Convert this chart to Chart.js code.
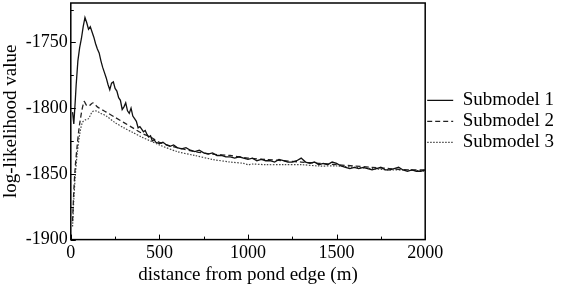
<!DOCTYPE html>
<html>
<head>
<meta charset="utf-8">
<script src="https://cdn.jsdelivr.net/npm/chart.js@4"></script>
<style>
  html, body { margin: 0; padding: 0; background: #fff; }
  #wrap { width: 561px; height: 286px; }
</style>
</head>
<body>
<div id="wrap"><canvas id="myChart" width="561" height="286"></canvas></div>
<script>
const seriesNames = ["Submodel 1", "Submodel 2", "Submodel 3"];

// Submodel 1 (solid, noisy)
const dist1 = [
  10, 17, 25, 30, 40, 50, 60, 70, 80, 90, 100, 110, 120, 130, 140, 150, 160, 170, 180, 190,
  200, 210, 220, 230, 240, 250, 260, 270, 280, 290, 300, 310, 320, 330, 340, 350, 360, 370, 380, 390,
  400, 410, 420, 430, 440, 450, 460, 470, 480, 500, 520, 540, 560, 580, 600,
  625, 650, 675, 700, 725, 750, 775, 800, 825, 850, 875, 900, 925, 950, 975,
  1000, 1025, 1050, 1075, 1100, 1125, 1150, 1175, 1200, 1225, 1250, 1275, 1300, 1325, 1350, 1375,
  1400, 1425, 1450, 1475, 1500, 1525, 1550, 1575, 1600, 1625, 1650, 1675, 1700, 1725, 1750, 1775,
  1800, 1825, 1850, 1875, 1900, 1925, 1950, 1975, 2000
];
const loglik1 = [
  -1803, -1812, -1795, -1783, -1764, -1754, -1747, -1738, -1731, -1735, -1740, -1738, -1742, -1746, -1751, -1755, -1758, -1764, -1769, -1773,
  -1777, -1782, -1786, -1781, -1780, -1785, -1787, -1792, -1794, -1801, -1799, -1796, -1802, -1804, -1800, -1806, -1808, -1810, -1815, -1814,
  -1816, -1818, -1817, -1820, -1822, -1821, -1825, -1824, -1826, -1827, -1826, -1828, -1829, -1828, -1830,
  -1831, -1830, -1832, -1833, -1832, -1834, -1835, -1834, -1836, -1836, -1837, -1837, -1838, -1837, -1838,
  -1839, -1838, -1840, -1839, -1840, -1840, -1841, -1839, -1840, -1841, -1841, -1840, -1838, -1841, -1842, -1841,
  -1843, -1842, -1843, -1841, -1842, -1844, -1845, -1846, -1845, -1846, -1845, -1846, -1847, -1846, -1845, -1847,
  -1847, -1846, -1845, -1847, -1848, -1847, -1848, -1848, -1847
];

// Submodel 2 (dashed)
const dist2 = [10, 17, 25, 35, 50, 75, 90, 105, 125, 150, 200, 250, 300, 350, 400, 450, 500, 600, 700, 800, 900, 1000, 1100, 1200, 1300, 1400, 1500, 1600, 1700, 1800, 1900, 2000];
const loglik2 = [-1886, -1863, -1845, -1830, -1812, -1795, -1798, -1798, -1796, -1799, -1803, -1807, -1811, -1815, -1819, -1822, -1826, -1830, -1833, -1835, -1836, -1838, -1839, -1840, -1841, -1842, -1843, -1844, -1845, -1846, -1847, -1847];

// Submodel 3 (dotted)
const dist3 = [10, 17, 25, 35, 50, 65, 80, 100, 120, 140, 170, 200, 250, 300, 350, 400, 450, 500, 600, 700, 800, 900, 975, 1000, 1025, 1100, 1200, 1300, 1400, 1500, 1600, 1700, 1800, 1900, 2000];
const loglik3 = [-1890, -1870, -1852, -1836, -1820, -1811, -1809, -1808, -1803, -1802, -1804, -1806, -1811, -1815, -1818.5, -1822, -1825, -1828, -1833, -1836, -1839, -1841, -1842, -1843, -1842.5, -1843, -1843, -1843, -1844, -1844, -1845, -1846, -1847, -1847, -1848];

const xTickVals = [0, 250, 500, 750, 1000, 1250, 1500, 1750, 2000];
const xLabelVals = [0, 500, 1000, 1500, 2000];
const yTickVals = [-1900, -1875, -1850, -1825, -1800, -1775, -1750, -1725];
const yLabelVals = [-1900, -1850, -1800, -1750];

const toPoints = (xs, ys) => xs.map((x, i) => ({ x: x, y: ys[i] }));

// frame + inward tick marks
const frameTicks = {
  id: "frameTicks",
  afterDraw(chart) {
    const { ctx, chartArea: a, scales } = chart;
    ctx.save();
    ctx.strokeStyle = "#000";
    ctx.lineWidth = 1.5;
    ctx.setLineDash([]);
    ctx.strokeRect(a.left, a.top, a.right - a.left, a.bottom - a.top);
    ctx.lineWidth = 1;
    ctx.beginPath();
    xTickVals.forEach(v => {
      const px = Math.round(scales.x.getPixelForValue(v)) + 0.5;
      const len = xLabelVals.includes(v) ? 5 : 3;
      ctx.moveTo(px, a.bottom);
      ctx.lineTo(px, a.bottom - len);
    });
    yTickVals.forEach(v => {
      const py = Math.round(scales.y.getPixelForValue(v)) + 0.5;
      const len = yLabelVals.includes(v) ? 5 : 3;
      ctx.moveTo(a.left, py);
      ctx.lineTo(a.left + len, py);
    });
    ctx.stroke();
    ctx.restore();
  }
};

Chart.defaults.font.family = "'Liberation Serif', 'Times New Roman', serif";
Chart.defaults.color = "#000";

const ctx = document.getElementById("myChart").getContext("2d");
const myChart = new Chart(ctx, {
  type: "line",
  data: {
    datasets: [
      {
        label: seriesNames[0],
        data: toPoints(dist1, loglik1),
        borderColor: "#111",
        borderWidth: 1.3,
        pointRadius: 0,
        tension: 0,
        fill: false
      },
      {
        label: seriesNames[1],
        data: toPoints(dist2, loglik2),
        borderColor: "#222",
        borderWidth: 1.3,
        borderDash: [5, 3],
        pointRadius: 0,
        tension: 0.3,
        fill: false
      },
      {
        label: seriesNames[2],
        data: toPoints(dist3, loglik3),
        borderColor: "#444",
        borderWidth: 1.2,
        borderDash: [1.5, 1.5],
        pointRadius: 0,
        tension: 0.3,
        fill: false
      }
    ]
  },
  options: {
    responsive: false,
    animation: false,
    layout: { padding: { top: 3, right: -3, bottom: 0, left: 0 } },
    plugins: {
      legend: {
        position: "right",
        fullSize: false,
        labels: {
          usePointStyle: true,
          pointStyle: "line",
          pointStyleWidth: 26,
          boxHeight: 19,
          padding: 2,
          font: { size: 19 },
          color: "#000",
          generateLabels: chart => chart.data.datasets.map((ds, i) => ({
            text: ds.label,
            datasetIndex: i,
            fillStyle: ds.borderColor,
            strokeStyle: ds.borderColor,
            lineWidth: 1.3,
            lineDash: ds.borderDash || [],
            pointStyle: "line",
            hidden: false
          }))
        }
      },
      tooltip: { enabled: false }
    },
    scales: {
      x: {
        type: "linear",
        min: 0,
        max: 2000,
        afterBuildTicks: s => { s.ticks = xLabelVals.map(v => ({ value: v })); },
        grid: { display: false, drawTicks: false },
        border: { display: false },
        ticks: { padding: 3, font: { size: 18 }, maxRotation: 0, callback: v => String(v) },
        title: { display: true, text: "distance from pond edge (m)", font: { size: 19 }, padding: { top: -4, bottom: 0 } }
      },
      y: {
        min: -1900,
        max: -1720,
        afterBuildTicks: s => { s.ticks = yLabelVals.map(v => ({ value: v })); },
        afterFit: s => { s.paddingTop = 0; },
        grid: { display: false, drawTicks: false },
        border: { display: false },
        ticks: { padding: 3, font: { size: 18 }, callback: v => String(v) },
        title: { display: true, text: "log-likelihood value", font: { size: 19 }, padding: { top: 0, bottom: 0 } }
      }
    }
  },
  plugins: [frameTicks]
});
</script>
</body>
</html>
